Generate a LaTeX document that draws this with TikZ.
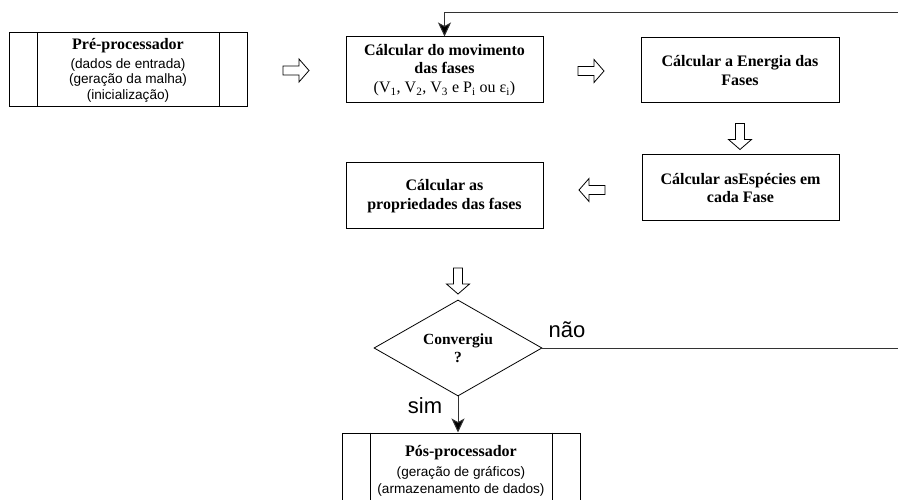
\documentclass[tikz,border=0pt]{standalone}
\usepackage{fontspec}
\setmainfont{Liberation Serif}
\newfontfamily\arialf{Liberation Sans}
\usetikzlibrary{shapes.geometric,arrows.meta}
\newcommand\subf{\arialf\mdseries\fontsize{13.6}{14.8}\selectfont}
\newcommand\regf{\mdseries}
\begin{document}
\begin{tikzpicture}[x=1pt,y=1pt,
  box/.style={draw,line width=1pt,rectangle,inner sep=0pt,align=center,
    font=\fontsize{16}{18.8}\selectfont\bfseries},
  lbl/.style={font=\arialf\fontsize{22}{24}\selectfont,inner sep=0pt},
  conn/.style={line width=1pt,draw=black!80},
  tip/.style={-{Stealth[length=14pt,width=13pt,inset=3.5pt,fill=black]}},
  hollow/.pic={\draw[line width=0.8pt,fill=white] (-13,-4.5) -- (3,-4.5) -- (3,-11.5) -- (13,0) -- (3,11.5) -- (3,4.5) -- (-13,4.5) -- cycle;}
]
\useasboundingbox (0,0) rectangle (898,-500);
\clip (0,0) rectangle (898,-500);

% nodes
\node[box,minimum width=238pt,minimum height=74pt] (pre) at (128,-70)
  {Pré-processador\\[0pt]\subf (dados de entrada)\\[-3.3pt]\subf (geração da malha)\\[-3.3pt]\subf (inicialização)};
\node[box,minimum width=197pt,minimum height=66pt] (mov) at (444.5,-70)
  {Cálcular do movimento\\das fases\\\regf (V\textsubscript{1}, V\textsubscript{2}, V\textsubscript{3} e P\textsubscript{i} ou ε\textsubscript{i})};
\node[box,minimum width=198pt,minimum height=65pt] (ene) at (740,-70.5)
  {Cálcular a Energia das\\Fases};
\node[box,minimum width=197pt,minimum height=66pt] (esp) at (740.5,-188)
  {Cálcular asEspécies em\\cada Fase};
\node[box,minimum width=197pt,minimum height=66pt] (prop) at (444.5,-196)
  {Cálcular as\\propriedades das fases};
\node[draw,diamond,line width=0.8pt,aspect=1.75,minimum width=168pt,minimum height=96pt,inner sep=0pt,align=center,
  font=\fontsize{15.5}{18.5}\selectfont\bfseries] (conv) at (458,-348) {Convergiu\\?};
\node[box,minimum width=238pt,minimum height=76pt] (pos) at (461,-471)
  {Pós-processador\\[1pt]\subf (geração de gráficos)\\[-1.8pt]\subf (armazenamento de dados)};

% inner vertical lines of process boxes
\draw[line width=1pt] ([xshift=29pt]pre.north west) -- ([xshift=29pt]pre.south west);
\draw[line width=1pt] ([xshift=-28pt]pre.north east) -- ([xshift=-28pt]pre.south east);
\draw[line width=1pt] ([xshift=29pt]pos.north west) -- ([xshift=29pt]pos.south west);
\draw[line width=1pt] ([xshift=-28pt]pos.north east) -- ([xshift=-28pt]pos.south east);

% hollow arrows
\pic at (296,-70.5) {hollow};
\pic at (591,-71) {hollow};
\pic[rotate=-90] at (740,-136.5) {hollow};
\pic[rotate=180] at (592,-190) {hollow};
\pic[rotate=-90] at (458,-281) {hollow};

% connectors
\coordinate (r1) at (902,-348);
\coordinate (r2) at (902,-13);
\draw[conn,tip] (conv.east) -- (r1) -- (r2) -| (mov.north);
\draw[conn,tip] (conv.south) -- (conv.south |- pos.north);

% labels
\node[lbl] (nao) at (567,-330) {não};
\node[lbl] (sim) at (425,-406) {sim};
\end{tikzpicture}
\end{document}
